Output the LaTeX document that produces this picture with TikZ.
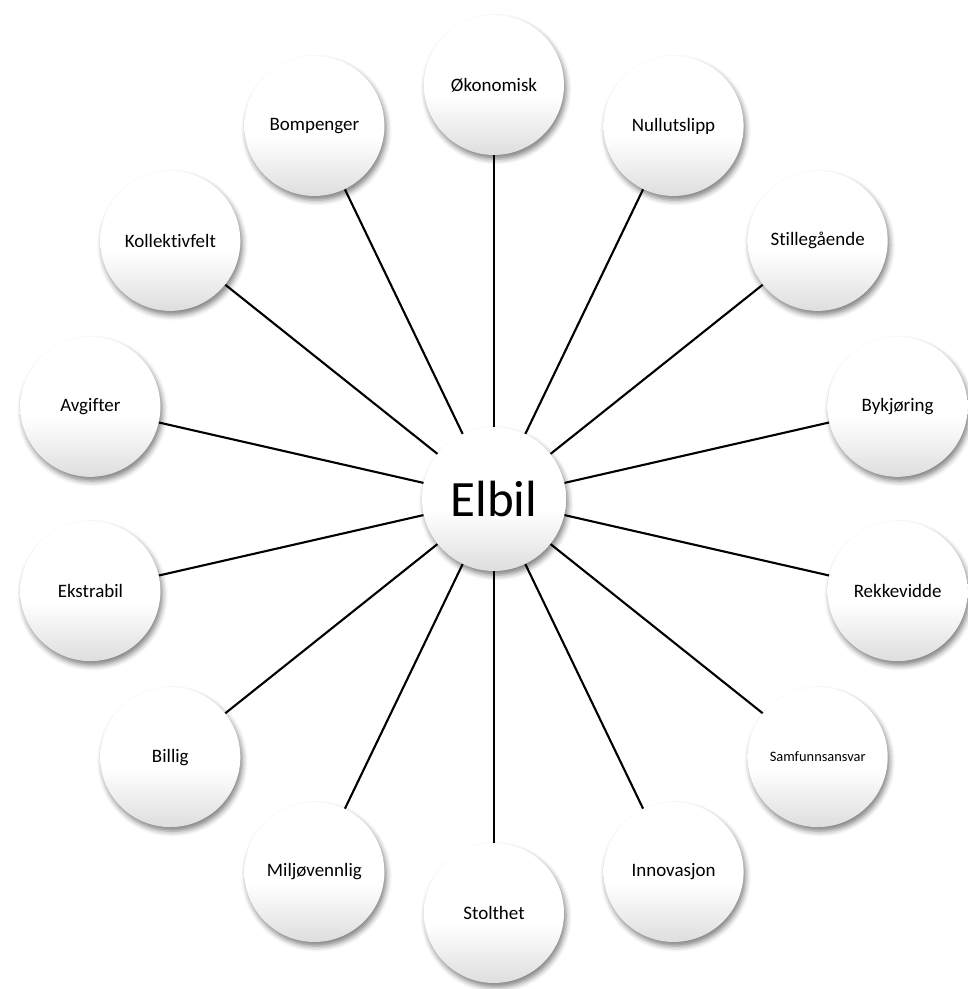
\documentclass[tikz,border=0pt]{standalone}
\usepackage{fontspec}
\setmainfont{Carlito}[Ligatures=NoCommon]
\usepackage{tikz}
\usetikzlibrary{shadows.blur}

\pgfdeclareverticalshading{bubbleshade}{100bp}{color(0bp)=(black!13); color(25bp)=(black!13); color(46bp)=(white); color(100bp)=(white)}

\begin{document}
\begin{tikzpicture}[
      x=0.02cm, y=0.02cm,
      bubble/.style={circle, minimum size=2.8cm, inner sep=0pt, align=center,
        shading=bubbleshade,
        blur shadow={shadow xshift=1.2pt, shadow yshift=-2.4pt, shadow blur radius=3pt, shadow opacity=50},
        font=\fontsize{10.8}{13}\selectfont},
      hub/.style={bubble, minimum size=2.88cm, font=\fontsize{29}{34}\selectfont},
      spoke/.style={line width=1.2pt}
    ]
    \useasboundingbox (-494,-490) rectangle (473,499);

    \node[hub] (elbil) at (0,0) {Elbil};

    \node[bubble] (oko) at (90:414) {Økonomisk};
    \node[bubble] (null) at (64.29:414) {Nullutslipp};
    \node[bubble] (stille) at (38.57:414) {Stillegående};
    \node[bubble] (by) at (12.86:414) {Bykjøring};
    \node[bubble] (rekk) at (-12.86:414) {Rekkevidde};
    \node[bubble, font=\fontsize{8.2}{10}\selectfont] (samf) at (-38.57:414) {Samfunnsansvar};
    \node[bubble] (innov) at (-64.29:414) {Innovasjon};
    \node[bubble] (stolt) at (-90:414) {Stolthet};
    \node[bubble] (miljo) at (-115.71:414) {Miljøvennlig};
    \node[bubble] (billig) at (-141.43:414) {Billig};
    \node[bubble] (ekstra) at (-167.14:414) {Ekstrabil};
    \node[bubble] (avg) at (167.14:414) {Avgifter};
    \node[bubble] (koll) at (141.43:414) {Kollektivfelt};
    \node[bubble] (bom) at (115.71:414) {Bompenger};

    \draw[spoke] (elbil) -- (oko);
    \draw[spoke] (elbil) -- (null);
    \draw[spoke] (elbil) -- (stille);
    \draw[spoke] (elbil) -- (by);
    \draw[spoke] (elbil) -- (rekk);
    \draw[spoke] (elbil) -- (samf);
    \draw[spoke] (elbil) -- (innov);
    \draw[spoke] (elbil) -- (stolt);
    \draw[spoke] (elbil) -- (miljo);
    \draw[spoke] (elbil) -- (billig);
    \draw[spoke] (elbil) -- (ekstra);
    \draw[spoke] (elbil) -- (avg);
    \draw[spoke] (elbil) -- (koll);
    \draw[spoke] (elbil) -- (bom);
  \end{tikzpicture}
\end{document}
